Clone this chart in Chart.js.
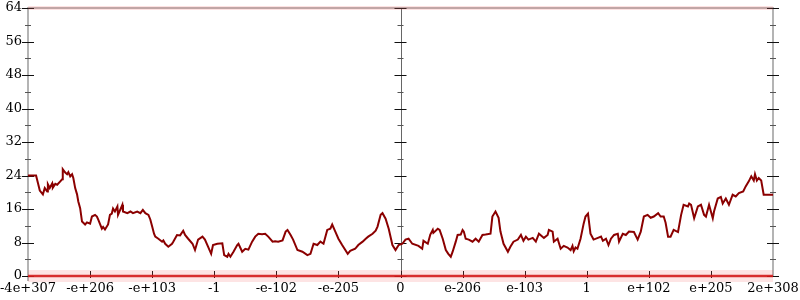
<!DOCTYPE html>
<html>
<head>
<meta charset="utf-8">
<script src="https://cdn.jsdelivr.net/npm/chart.js@4/dist/chart.umd.min.js"></script>
<style>
  html, body { margin: 0; padding: 0; background: #fff; }
  #wrap { width: 800px; height: 300px; }
</style>
</head>
<body>
<div id="wrap"><canvas id="chart"></canvas></div>
<script>
// tick labels along the bottom, one per unit of x
var xLabels = ['-4e+307', '-e+206', '-e+103', '-1', '-e-102', '-e-205', '0',
               'e-206', 'e-103', '1', 'e+102', 'e+205', '2e+308'];
var yTicks = [0, 8, 16, 24, 32, 40, 48, 56, 64];

// the walk (x in label steps, y in axis units)
var walkX = [0, 0.13, 0.19, 0.24, 0.27, 0.31, 0.32, 0.35, 0.39, 0.40, 0.44, 0.47, 0.52, 0.55, 0.56,
  0.60, 0.63, 0.65, 0.68, 0.71, 0.73, 0.76, 0.79, 0.81, 0.84, 0.87, 0.92, 0.95, 1.00, 1.03,
  1.08, 1.11, 1.13, 1.19, 1.21, 1.24, 1.29, 1.32, 1.35, 1.37, 1.40, 1.44, 1.45, 1.52, 1.53,
  1.60, 1.65, 1.69, 1.76, 1.81, 1.85, 1.89, 1.94, 1.97, 2.00, 2.03, 2.05, 2.10, 2.16, 2.18,
  2.21, 2.26, 2.32, 2.34, 2.40, 2.45, 2.50, 2.53, 2.58, 2.65, 2.69, 2.74, 2.81, 2.85, 2.90,
  2.95, 2.98, 3.05, 3.13, 3.16, 3.21, 3.23, 3.26, 3.31, 3.37, 3.39, 3.45, 3.50, 3.55, 3.61,
  3.66, 3.71, 3.77, 3.82, 3.87, 3.94, 3.98, 4.03, 4.10, 4.15, 4.18, 4.23, 4.27, 4.34, 4.42,
  4.50, 4.55, 4.60, 4.66, 4.71, 4.76, 4.82, 4.87, 4.90, 4.95, 5.00, 5.06, 5.15, 5.19, 5.27,
  5.32, 5.39, 5.44, 5.48, 5.55, 5.60, 5.63, 5.68, 5.71, 5.76, 5.81, 5.87, 5.92, 5.97, 6.03,
  6.08, 6.13, 6.19, 6.29, 6.35, 6.37, 6.44, 6.48, 6.52, 6.53, 6.60, 6.63, 6.68, 6.73, 6.77,
  6.81, 6.84, 6.89, 6.92, 6.97, 7.00, 7.02, 7.05, 7.10, 7.16, 7.21, 7.26, 7.32, 7.37, 7.45,
  7.48, 7.53, 7.58, 7.61, 7.66, 7.73, 7.77, 7.82, 7.89, 7.94, 7.98, 8.02, 8.06, 8.13, 8.18,
  8.23, 8.31, 8.37, 8.39, 8.45, 8.47, 8.53, 8.58, 8.63, 8.69, 8.74, 8.77, 8.79, 8.82, 8.85,
  8.90, 8.95, 8.98, 9.02, 9.06, 9.11, 9.18, 9.23, 9.26, 9.31, 9.35, 9.39, 9.44, 9.50, 9.52,
  9.58, 9.63, 9.68, 9.76, 9.82, 9.87, 9.92, 9.98, 10.03, 10.08, 10.15, 10.19, 10.24, 10.27, 10.31,
  10.35, 10.40, 10.47, 10.52, 10.56, 10.63, 10.65, 10.68, 10.73, 10.79, 10.84, 10.89, 10.92, 10.97, 11.03,
  11.05, 11.11, 11.16, 11.19, 11.24, 11.29, 11.35, 11.40, 11.45, 11.52, 11.56, 11.61, 11.65, 11.69, 11.71,
  11.74, 11.77, 11.81, 11.85, 12.00];
var walkY = [24, 24, 20.4, 19.5, 21, 20.2, 21.9, 21, 22.1, 21.1, 22, 21.8, 22.6, 23.1, 25.5,
  24.7, 24.3, 24.8, 23.8, 24.3, 23.4, 21, 19.5, 17.8, 16.2, 13, 12.3, 12.8, 12.5, 14.2,
  14.6, 14.2, 13.5, 11.3, 11.7, 11.1, 12.3, 14.6, 14.9, 16.1, 15.4, 16.6, 14.6, 17, 15.4,
  15, 15.4, 15, 15.4, 15, 15.8, 15, 14.6, 13.5, 11.8, 10.1, 9.4, 8.9, 8.2, 8.5,
  7.7, 7, 7.7, 8.2, 9.8, 9.7, 10.8, 9.8, 8.9, 7.7, 6.2, 8.7, 9.4, 8.7, 7,
  5.3, 7.4, 7.7, 7.8, 5, 4.6, 5.3, 4.6, 5.8, 7.4, 7.7, 5.8, 6.5, 6.3, 8.2,
  9.4, 10.1, 10, 10.1, 9.4, 8.2, 8.3, 8.2, 8.5, 10.6, 11, 9.8, 8.7, 6.2, 5.8,
  5, 5.3, 7.7, 7.4, 8.2, 7.7, 11, 11.3, 12.3, 10.6, 8.9, 7.4, 5.3, 6, 6.5,
  7.4, 8.2, 8.9, 9.4, 10.1, 10.8, 11.8, 14.6, 15, 13.7, 11.3, 7.4, 6.2, 7.4, 7.7,
  8.7, 8.9, 7.7, 7.2, 6.5, 8.4, 7.7, 9.9, 11, 10.3, 11.3, 11, 8.9, 6.2, 5.3,
  4.6, 5.8, 8.2, 9.8, 9.9, 11, 10.6, 8.9, 8.7, 8.2, 8.9, 8.2, 9.8, 9.9, 10.1,
  14.2, 15.4, 13.9, 10.6, 7.7, 5.8, 7, 8.2, 8.7, 9.8, 8.4, 9.4, 8.7, 9.1, 8.2,
  10.1, 9.1, 9.8, 11, 10.6, 8.2, 8.9, 6.5, 7.2, 6.8, 6.2, 7.2, 5.9, 6.8, 6.5,
  8.9, 12.5, 14.2, 14.9, 10.1, 8.7, 9.1, 9.4, 8.4, 8.9, 7.4, 8.9, 9.8, 10.1, 8.2,
  10.1, 9.8, 10.6, 10.5, 8.7, 10.6, 14.2, 14.6, 13.9, 14.2, 15, 14.2, 14.2, 12.7, 9.4,
  9.4, 11, 10.5, 14.6, 17, 16.6, 17.3, 17, 13.8, 16.6, 17, 14.6, 14.2, 17, 13.8,
  15.4, 18.5, 18.9, 17.3, 18.5, 17, 19.4, 19, 19.8, 20.2, 21.4, 22.6, 23.8, 22.8, 24.3,
  22.8, 23.4, 22.8, 19.4, 19.4];

// points piled against the top and bottom edges
var bandX = [0, 12];
var lowBand = [0, 0];
var highBand = [64, 64];

function pairs(xs, ys) {
    return xs.map(function (x, i) { return { x: x, y: ys[i] }; });
}

// hand-drawn frame: gray side axes, a thin middle axis, ticks that cross the lines
var frameAxes = {
    id: 'frameAxes',
    beforeDatasetsDraw: function (chart) {
        var ctx = chart.ctx;
        var xs = chart.scales.x, ys = chart.scales.y;
        var top = ys.getPixelForValue(64), bot = ys.getPixelForValue(0);
        var left = xs.getPixelForValue(0), right = xs.getPixelForValue(12), mid = xs.getPixelForValue(6);
        ctx.save();
        ctx.strokeStyle = '#b4b4b4';
        ctx.lineWidth = 2;
        ctx.beginPath();
        ctx.moveTo(left, top - 1); ctx.lineTo(left, bot + 5);
        ctx.moveTo(right, top - 1); ctx.lineTo(right, bot + 1);
        ctx.moveTo(left, top); ctx.lineTo(right, top);
        ctx.moveTo(left, bot); ctx.lineTo(right, bot);
        ctx.stroke();
        ctx.strokeStyle = '#666';
        ctx.lineWidth = 1;
        ctx.beginPath();
        ctx.moveTo(Math.round(mid) + 0.5, top); ctx.lineTo(Math.round(mid) + 0.5, bot);
        ctx.stroke();

        [left, mid, right].forEach(function (ax) {
            for (var v = 0; v <= 64; v += 4) {
                var py = Math.round(ys.getPixelForValue(v)) + 0.5;
                var major = v % 8 === 0;
                var half = major ? 6 : 3;
                ctx.strokeStyle = major ? '#111' : '#555';
                ctx.beginPath();
                ctx.moveTo(ax - half, py); ctx.lineTo(ax + half, py);
                ctx.stroke();
            }
        });
        ctx.strokeStyle = '#111';
        for (var i = 1; i < xLabels.length - 1; i++) {
            var px = Math.round(xs.getPixelForValue(i)) + 0.5;
            ctx.beginPath();
            ctx.moveTo(px, bot - 5); ctx.lineTo(px, bot + 2);
            ctx.stroke();
        }
        ctx.restore();
    }
};

var ctx = document.getElementById('chart').getContext('2d');
new Chart(ctx, {
    type: 'line',
    data: {
        datasets: [{
            data: pairs(walkX, walkY),
            borderColor: '#8b0000',
            borderWidth: 2,
            pointRadius: 0,
            tension: 0,
            order: 1
        }, {
            data: pairs(bandX, lowBand),
            borderColor: 'rgba(240,90,90,0.16)',
            borderWidth: 12,
            pointRadius: 0,
            clip: false,
            order: 3
        }, {
            data: pairs(bandX, lowBand),
            borderColor: 'rgba(220,25,25,0.85)',
            borderWidth: 2.5,
            pointRadius: 0,
            clip: false,
            order: 2
        }, {
            data: pairs(bandX, highBand),
            borderColor: 'rgba(245,110,110,0.2)',
            borderWidth: 4,
            pointRadius: 0,
            clip: false,
            order: 2
        }]
    },
    options: {
        responsive: true,
        maintainAspectRatio: false,
        animation: false,
        layout: { padding: { top: 8, right: 27, left: 0, bottom: 0 } },
        plugins: { legend: { display: false }, tooltip: { enabled: false } },
        scales: {
            x: {
                type: 'linear',
                min: 0,
                max: 12,
                grid: { display: false, drawTicks: false },
                border: { display: false },
                afterFit: function (s) { s.height = 24; s.paddingLeft = 0; s.paddingRight = 0; },
                ticks: {
                    stepSize: 1,
                    autoSkip: false,
                    maxRotation: 0,
                    padding: 5,
                    color: '#000',
                    font: { family: 'DejaVu Serif', size: 13 },
                    callback: function (v) { return xLabels[v]; }
                }
            },
            y: {
                min: 0,
                max: 64,
                grid: { display: false, drawTicks: false },
                border: { display: false },
                afterFit: function (s) { s.width = 28; s.paddingTop = 0; s.paddingBottom = 0; },
                afterBuildTicks: function (s) { s.ticks = yTicks.map(function (v) { return { value: v }; }); },
                ticks: {
                    padding: 6,
                    color: '#000',
                    font: { family: 'DejaVu Serif', size: 13 }
                }
            }
        }
    },
    plugins: [frameAxes]
});
</script>
</body>
</html>
